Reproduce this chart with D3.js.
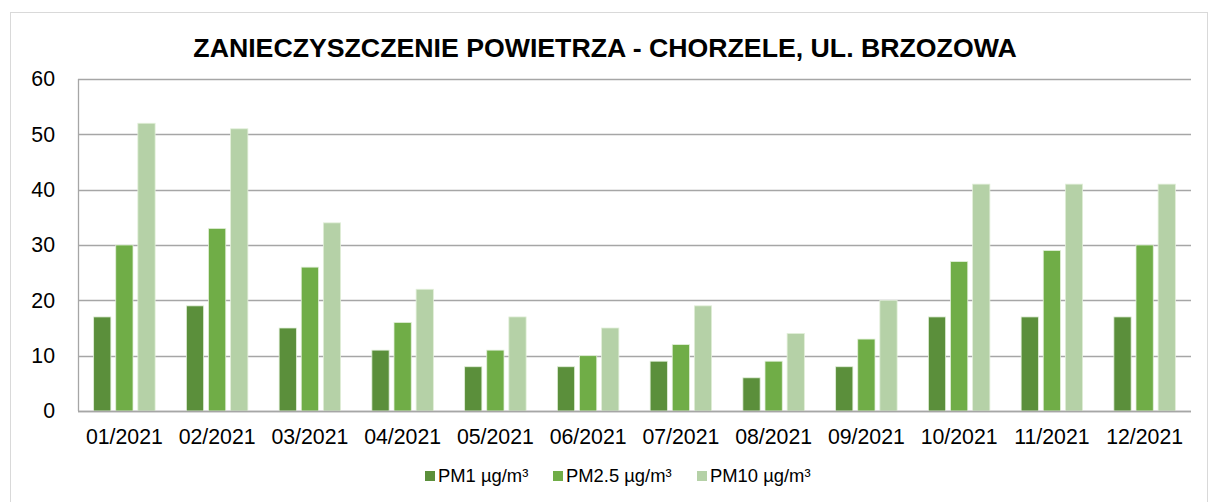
<!DOCTYPE html>
<html>
<head>
<meta charset="UTF-8">
<title>Zanieczyszczenie powietrza - Chorzele</title>
<script src="https://cdn.jsdelivr.net/npm/d3@7"></script>
<style>
  body { margin: 0; background: #fff; }
  text { font-family: "Liberation Sans", Arial, sans-serif; fill: #000; }
</style>
</head>
<body>
<div id="chart"></div>
<script>
// data
var months = ["01/2021","02/2021","03/2021","04/2021","05/2021","06/2021",
              "07/2021","08/2021","09/2021","10/2021","11/2021","12/2021"];
var seriesNames = ["PM1 µg/m³", "PM2.5 µg/m³", "PM10 µg/m³"];
var pm1  = [17, 19, 15, 11, 8, 8, 9, 6, 8, 17, 17, 17];
var pm25 = [30, 33, 26, 16, 11, 10, 12, 9, 13, 27, 29, 30];
var pm10 = [52, 51, 34, 22, 17, 15, 19, 14, 20, 41, 41, 41];
var yTicks = [0, 10, 20, 30, 40, 50, 60];
var colors = ["#5b8f3b", "#70ad47", "#b5d1a7"];

var W = 1209, H = 502;
var margin = {left: 78, right: 18, top: 79, bottom: 91};

var svg = d3.select("#chart").append("svg")
    .attr("width", W).attr("height", H);

// outer chart frame
svg.append("rect")
    .attr("x", 10.5).attr("y", 12.5)
    .attr("width", W - 12).attr("height", H)
    .attr("fill", "#fff").attr("stroke", "#d9d9d9");

var x0 = d3.scaleBand().domain(months)
    .range([margin.left, W - margin.right]).padding(0);
var groupW = x0.bandwidth() * 0.663;
var x1 = d3.scaleBand().domain(seriesNames)
    .range([-groupW / 2, groupW / 2]).paddingInner(0.22).paddingOuter(0);
var y = d3.scaleLinear().domain([0, 60]).range([H - margin.bottom, margin.top]);

// gridlines
svg.append("g").selectAll("line").data(yTicks).enter().append("line")
    .attr("x1", margin.left).attr("x2", W - margin.right)
    .attr("y1", function(d){ return Math.round(y(d)) + 0.5; })
    .attr("y2", function(d){ return Math.round(y(d)) + 0.5; })
    .attr("stroke", "#a6a6a6").attr("stroke-width", 1.3);

// vertical axis line
svg.append("line")
    .attr("x1", margin.left + 0.5).attr("x2", margin.left + 0.5)
    .attr("y1", y(60)).attr("y2", y(0))
    .attr("stroke", "#a6a6a6").attr("stroke-width", 1.3);

// bars
var rows = months.map(function(m, i){ return [pm1[i], pm25[i], pm10[i]]; });
var groups = svg.append("g").selectAll("g").data(rows).enter().append("g")
    .attr("transform", function(d, i){ return "translate(" + (x0(months[i]) + x0.bandwidth() / 2) + ",0)"; });
groups.selectAll("rect").data(function(d){ return d; }).enter().append("rect")
    .attr("x", function(d, j){ return x1(seriesNames[j]); })
    .attr("width", x1.bandwidth())
    .attr("y", function(d){ return y(d); })
    .attr("height", function(d){ return y(0) - y(d); })
    .attr("fill", function(d, j){ return colors[j]; })
    .attr("stroke", "#e2efd9").attr("stroke-width", 0.8);

// redraw base line over bars
svg.append("line")
    .attr("x1", margin.left).attr("x2", W - margin.right)
    .attr("y1", Math.round(y(0)) + 0.5).attr("y2", Math.round(y(0)) + 0.5)
    .attr("stroke", "#a6a6a6").attr("stroke-width", 1.3);

// y axis labels
svg.append("g").selectAll("text").data(yTicks).enter().append("text")
    .attr("x", 55).attr("y", function(d){ return y(d); })
    .attr("dy", "0.35em").attr("text-anchor", "end")
    .style("font-size", "21.3px")
    .text(function(d){ return d; });

// x axis labels
svg.append("g").selectAll("text").data(months).enter().append("text")
    .attr("x", function(d){ return x0(d) + x0.bandwidth() / 2; })
    .attr("y", 444).attr("text-anchor", "middle")
    .style("font-size", "21.3px")
    .text(function(d){ return d; });

// title
svg.append("text")
    .attr("x", 605).attr("y", 57).attr("text-anchor", "middle")
    .style("font-size", "26.7px").style("font-weight", "bold")
    .text("ZANIECZYSZCZENIE POWIETRZA - CHORZELE, UL. BRZOZOWA");

// legend
var legendX = [425, 553, 697];
var lg = svg.append("g").selectAll("g").data(seriesNames).enter().append("g")
    .attr("transform", function(d, i){ return "translate(" + legendX[i] + ",471)"; });
lg.append("rect").attr("width", 10).attr("height", 10)
    .attr("fill", function(d, i){ return colors[i]; });
lg.append("text").attr("x", 13).attr("y", 11)
    .style("font-size", "18.4px")
    .text(function(d){ return d; });
</script>
</body>
</html>
